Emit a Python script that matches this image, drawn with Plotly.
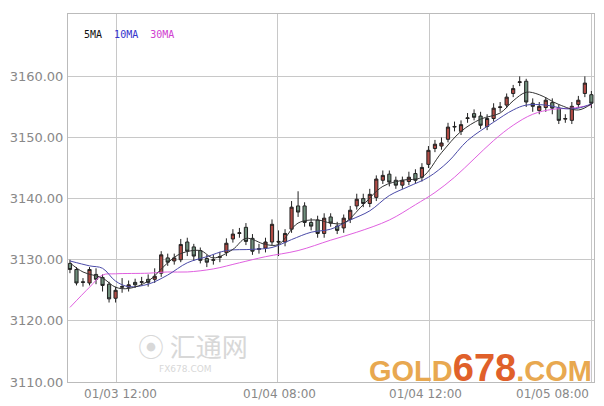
import plotly.graph_objects as go

# candle data (index 0 = first bar)
opens = [3129.4, 3128.4, 3126.4, 3126.2, 3127.6, 3127.1, 3126.0, 3123.7, 3125.5, 3125.5,
         3126.3, 3126.3, 3126.8, 3126.8, 3127.8, 3130.3, 3129.8, 3130.0, 3132.9, 3132.1,
         3131.5, 3130.2, 3129.9, 3130.4, 3131.2, 3133.4, 3134.3, 3135.3, 3133.5, 3131.7,
         3131.9, 3132.9, 3133.0, 3132.9, 3135.0, 3138.8, 3138.8, 3136.1, 3136.5, 3134.3,
         3137.0, 3135.5, 3135.2, 3136.6, 3138.8, 3140.0, 3139.2, 3140.2, 3143.0, 3144.0,
         3143.0, 3142.2, 3142.8, 3144.1, 3143.5, 3145.6, 3148.2, 3148.6, 3149.7, 3151.7,
         3151.0, 3153.1, 3153.9, 3153.5, 3151.8, 3153.1, 3154.9, 3155.3, 3157.2, 3159.0,
         3159.2, 3155.6, 3154.4, 3154.9, 3155.7, 3154.8, 3153.0, 3152.8, 3155.4, 3157.2,
         3157.0]
closes = [3128.4, 3126.2, 3126.3, 3128.4, 3126.8, 3125.8, 3123.6, 3125.0, 3125.6, 3125.9,
          3125.9, 3126.4, 3126.3, 3127.3, 3130.8, 3129.6, 3130.3, 3132.5, 3131.4, 3130.6,
          3129.9, 3129.6, 3130.0, 3130.5, 3132.7, 3134.2, 3134.4, 3133.0, 3131.4, 3131.8,
          3132.9, 3135.8, 3132.9, 3134.3, 3138.6, 3137.8, 3136.1, 3135.5, 3134.3, 3136.8,
          3136.0, 3134.8, 3136.8, 3138.1, 3139.9, 3139.2, 3140.7, 3143.2, 3143.8, 3142.7,
          3142.2, 3143.0, 3143.5, 3143.0, 3145.1, 3147.9, 3148.9, 3149.1, 3151.7, 3151.8,
          3152.1, 3153.2, 3153.3, 3152.0, 3153.1, 3154.8, 3155.0, 3156.6, 3158.0, 3159.1,
          3155.8, 3155.1, 3155.1, 3156.1, 3154.8, 3152.8, 3153.1, 3155.1, 3156.1, 3158.9,
          3155.6]
highs = [3130.0, 3128.8, 3127.0, 3128.8, 3128.6, 3127.6, 3126.4, 3125.6, 3127.0, 3126.6,
         3126.9, 3127.2, 3127.6, 3128.6, 3131.4, 3131.0, 3131.0, 3133.4, 3133.6, 3132.6,
         3132.0, 3130.8, 3130.8, 3131.3, 3133.5, 3135.0, 3135.2, 3136.0, 3134.2, 3132.6,
         3133.6, 3136.6, 3134.8, 3135.0, 3139.6, 3141.2, 3139.4, 3136.8, 3137.2, 3137.6,
         3137.6, 3136.2, 3137.4, 3138.8, 3140.8, 3140.8, 3141.6, 3143.8, 3144.6, 3144.6,
         3143.6, 3143.6, 3144.4, 3144.8, 3145.8, 3148.6, 3149.6, 3150.0, 3152.4, 3152.6,
         3152.8, 3154.0, 3154.6, 3154.2, 3153.8, 3155.6, 3155.8, 3157.2, 3158.6, 3160.0,
         3159.6, 3156.4, 3155.8, 3156.6, 3156.4, 3155.4, 3153.8, 3155.8, 3156.8, 3160.0,
         3157.6]
lows = [3127.8, 3125.8, 3125.6, 3125.8, 3126.0, 3124.8, 3123.0, 3123.0, 3124.6, 3124.8,
        3125.4, 3125.8, 3125.6, 3126.2, 3127.2, 3129.0, 3129.2, 3129.6, 3130.6, 3129.8,
        3129.4, 3128.8, 3129.2, 3129.6, 3130.6, 3132.8, 3133.6, 3132.4, 3130.8, 3131.0,
        3131.2, 3132.4, 3130.6, 3132.2, 3134.4, 3137.0, 3135.4, 3134.8, 3133.6, 3133.6,
        3135.4, 3134.2, 3134.4, 3136.0, 3138.2, 3138.6, 3138.6, 3139.6, 3142.4, 3142.0,
        3141.6, 3141.6, 3142.2, 3142.4, 3142.8, 3145.0, 3147.6, 3148.0, 3149.2, 3151.0,
        3150.4, 3152.4, 3152.8, 3151.4, 3151.2, 3152.6, 3154.2, 3154.8, 3156.6, 3158.4,
        3155.0, 3154.2, 3153.8, 3154.2, 3153.8, 3152.2, 3152.4, 3152.2, 3154.8, 3156.6,
        3154.8]

# moving averages at selected bars
ma5_idx = [0, 2, 5, 7, 9, 12, 15, 17, 20, 22, 25, 27, 30, 32, 35, 38, 40, 42, 45, 48,
           51, 54, 57, 60, 63, 66, 68, 70, 72, 75, 78, 80]
ma5_val = [3129.5, 3128.0, 3127.0, 3125.5, 3125.3, 3126.5, 3129.5, 3131.0, 3131.5, 3130.3,
           3131.7, 3133.5, 3132.5, 3132.5, 3136.0, 3136.5, 3136.0, 3136.0, 3139.0, 3142.0,
           3143.0, 3143.5, 3147.5, 3151.0, 3153.0, 3154.0, 3156.0, 3157.4, 3157.0, 3155.4,
           3154.5, 3155.5]
ma10_idx = [0, 3, 5, 7, 9, 12, 15, 18, 21, 24, 28, 31, 34, 37, 40, 43, 46, 49, 52, 55,
            58, 61, 65, 68, 70, 73, 76, 78, 80]
ma10_val = [3129.8, 3129.0, 3128.6, 3126.5, 3125.6, 3126.0, 3127.5, 3129.5, 3130.5, 3131.5,
            3131.7, 3132.0, 3133.3, 3134.5, 3135.0, 3136.5, 3138.0, 3140.5, 3142.0, 3143.5,
            3146.0, 3149.5, 3152.5, 3154.5, 3155.3, 3155.3, 3154.7, 3154.8, 3155.5]
ma30_idx = [0, 3, 5, 7, 12, 15, 18, 22, 26, 30, 35, 40, 44, 49, 53, 56, 59, 62, 65, 68,
            71, 74, 77, 80]
ma30_val = [3122.2, 3125.5, 3127.5, 3127.7, 3127.8, 3128.0, 3128.0, 3128.5, 3129.5, 3130.5,
            3131.5, 3133.2, 3134.5, 3136.5, 3139.0, 3141.0, 3143.5, 3146.5, 3149.5, 3152.0,
            3153.8, 3154.6, 3154.8, 3155.3]

grid_pos = [7.2, 31.9, 55.2, 80.0]
tick_labels = ['01/03 12:00', '01/04 08:00', '01/04 12:00', '01/05 08:00']
label_pos = [7.7, 32.2, 54.5, 74.1]
y_ticks = [3110, 3120, 3130, 3140, 3150, 3160]

fig = go.Figure()
fig.add_trace(go.Candlestick(
    x=list(range(len(opens))), open=opens, high=highs, low=lows, close=closes,
    increasing=dict(line=dict(color='#222', width=1), fillcolor='#b04a44'),
    decreasing=dict(line=dict(color='#222', width=1), fillcolor='#6f8f7c'),
    whiskerwidth=0, showlegend=False, hoverinfo='skip'))
for idx, val, col in [(ma30_idx, ma30_val, '#e060e0'), (ma10_idx, ma10_val, '#4a4aa8'),
                      (ma5_idx, ma5_val, '#333333')]:
    fig.add_trace(go.Scatter(x=idx, y=val, mode='lines', line=dict(color=col, width=1, shape='spline'),
                             showlegend=False, hoverinfo='skip'))

fig.update_layout(
    width=604, height=406, margin=dict(l=68, r=10, t=14, b=24),
    plot_bgcolor='white', paper_bgcolor='white',
    font=dict(family='DejaVu Sans', color='#888'),
    xaxis=dict(range=[-0.3, 80.4], rangeslider=dict(visible=False), tickvals=grid_pos,
               ticktext=['' for _ in grid_pos], showgrid=True, gridcolor='#c8c8c8',
               showline=True, linecolor='#bbb', mirror=True, zeroline=False, automargin=False),
    yaxis=dict(range=[3110, 3170.2], tickvals=y_ticks, ticktext=['%.2f' % v for v in y_ticks],
               tickfont=dict(size=13, color='#888'), showgrid=True, gridcolor='#c8c8c8',
               showline=True, linecolor='#bbb', mirror=True, zeroline=False, ticks='',
               automargin=False, ticklabelstandoff=1),
)
for p, t in zip(label_pos, tick_labels):
    fig.add_annotation(x=p, y=0, xref='x', yref='paper', yanchor='top', yshift=-3, text=t,
                       showarrow=False, font=dict(size=12, color='#888'))
fig.add_annotation(x=0.026, y=0.965, xref='paper', yref='paper', xanchor='left', showarrow=False,
                   text="<span style='color:#111'>5MA</span>  <span style='color:#3333cc'>10MA</span>  "
                        "<span style='color:#d040d0'>30MA</span>",
                   font=dict(size=10, family='DejaVu Sans Mono'))
fig.add_annotation(x=0.13, y=0.1, xref='paper', yref='paper', yanchor='middle', showarrow=False,
                   text='⦿ 汇通网', font=dict(size=26, color='#d8d8d8', family='Noto Sans CJK SC'))
fig.add_annotation(x=0.17, y=0.035, xref='paper', yref='paper', yanchor='middle', showarrow=False,
                   text='FX678.COM', font=dict(size=9, color='#d8d8d8'))
fig.add_annotation(x=1.0, y=-0.025, xref='paper', yref='paper', xanchor='right', yanchor='bottom',
                   showarrow=False,
                   text="<b>GOLD<span style='color:#e0602a;font-size:38px'>678</span>.COM</b>",
                   font=dict(size=29, color='#e8a850', family='Liberation Sans'))
# drop the page's default body margin so the figure sits at the window corner
fig.write_html("out.html", config={'displayModeBar': False},
               post_script="document.body.style.margin='0';")
